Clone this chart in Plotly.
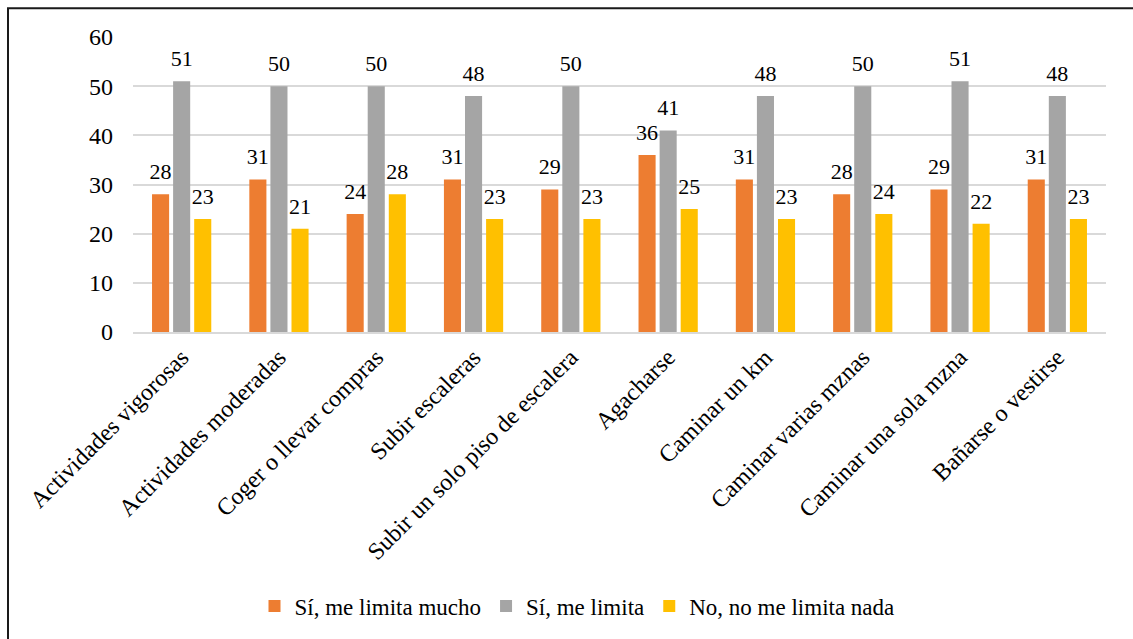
import plotly.graph_objects as go

categories = ["Actividades vigorosas", "Actividades moderadas", "Coger o llevar compras",
              "Subir escaleras", "Subir un solo piso de escalera", "Agacharse",
              "Caminar un km", "Caminar varias mznas", "Caminar una sola mzna",
              "Bañarse o vestirse"]
mucho = [28, 31, 24, 31, 29, 36, 31, 28, 29, 31]
limita = [51, 50, 50, 48, 50, 41, 48, 50, 51, 48]
nada = [23, 21, 28, 23, 23, 25, 23, 24, 22, 23]
series_names = ["Sí, me limita mucho", "Sí, me limita", "No, no me limita nada"]
colors = ["#ED7D31", "#A5A5A5", "#FFC000"]
y_ticks = [0, 10, 20, 30, 40, 50, 60]

FONT = "Liberation Serif"
GAP = 0.35

fig = go.Figure()
for i, (name, vals, col) in enumerate(zip(series_names, [mucho, limita, nada], colors)):
    fig.add_trace(go.Bar(
        x=categories, y=vals, name=name, marker_color=col, marker_line_width=0,
        offsetgroup=str(i), alignmentgroup="a",
    ))
for i, vals in enumerate([mucho, limita, nada]):
    fig.add_trace(go.Scatter(
        x=categories, y=vals, mode="markers+text", text=[str(v) for v in vals],
        textposition="top center", offsetgroup=str(i), alignmentgroup="a",
        marker=dict(size=14, opacity=0), showlegend=False, hoverinfo="skip",
        cliponaxis=False,
        textfont=dict(family=FONT, size=22, color="#000000"),
    ))

L, R, T, B = 133, 27, 37, 305
W, H = 1133, 639
pw, ph = W - L - R, H - T - B

fig.update_layout(
    width=W, height=H,
    margin=dict(l=L, r=R, t=T, b=B),
    paper_bgcolor="white", plot_bgcolor="white",
    barmode="group", bargap=GAP, bargroupgap=0.19,
    scattermode="group", scattergap=GAP,
    font=dict(family=FONT, color="#000000"),
    showlegend=True,
    legend=dict(orientation="h", x=(577 - L) / pw, xanchor="center",
                y=(T + ph - 610) / ph, yanchor="middle",
                font=dict(family=FONT, size=23, color="#000000"),
                itemwidth=30, tracegroupgap=0),
    xaxis=dict(tickangle=-45, tickfont=dict(family=FONT, size=24, color="#000000"),
               showgrid=False, showline=True, linecolor="#d9d9d9", linewidth=1.5,
               ticks=""),
    yaxis=dict(range=[0, 60], tickvals=y_ticks, tickfont=dict(family=FONT, size=24, color="#000000"),
               showgrid=True, gridcolor="#d9d9d9", gridwidth=1.5, zeroline=False,
               showline=False, ticks="", ticklabelstandoff=19),
    shapes=[dict(type="rect", xref="paper", yref="paper",
                 x0=(8 - L) / pw, x1=(W + 20 - L) / pw,
                 y0=-(H + 20 - T - ph) / ph, y1=1 + (T - 8) / ph,
                 line=dict(color="#1a1a1a", width=2), fillcolor="rgba(0,0,0,0)",
                 layer="below")],
)

fig.write_html("out.html")
